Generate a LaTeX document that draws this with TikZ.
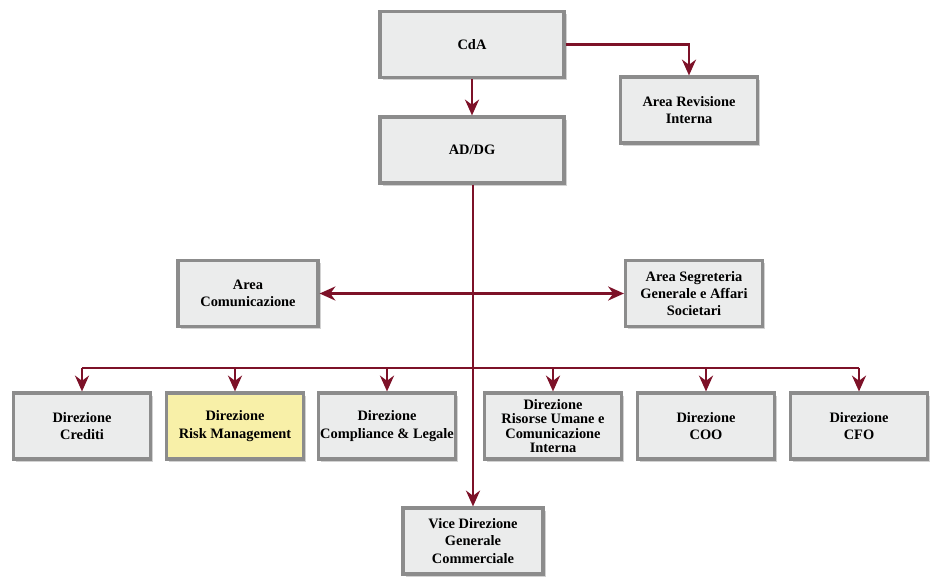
\documentclass[tikz,border=0pt]{standalone}
\usepackage{fontspec}
\setmainfont{Liberation Serif}
\usetikzlibrary{positioning,arrows.meta,shadows}
\definecolor{boxfill}{HTML}{EBECEC}
\definecolor{boxline}{HTML}{8C8C8C}
\definecolor{riskfill}{HTML}{F8F0A8}
\definecolor{arrowred}{HTML}{7D1128}
\begin{document}
\begin{tikzpicture}[x=0.2mm, y=-0.2mm,
    orgbox/.style={rectangle, draw=boxline, line width=1.8pt, fill=boxfill,
        drop shadow={shadow xshift=1.6pt, shadow yshift=-1.6pt, fill=black!35},
        minimum width=27.4mm, minimum height=13.2mm, align=center, inner sep=1pt,
        font=\bfseries\fontsize{8.2}{9.8}\selectfont},
    topbox/.style={orgbox, minimum width=36.8mm},
    link/.style={draw=arrowred, line width=1.4pt},
    arr/.style={link, -{Stealth[length=9pt,width=8pt]}}]
    \useasboundingbox (0,0) rectangle (935,579);
    % vertici
    \node[topbox] (cda) at (472,44.5) {CdA};
    \node[orgbox] (rev) at (689,110) {Area Revisione\\Interna};
    \node[topbox] (addg) at (472,150) {AD/DG};
    \node[orgbox, minimum width=28mm] (com) at (248,293.5) {Area\\Comunicazione};
    \node[orgbox] (seg) at (694,293.5) {Area Segreteria\\Generale e Affari\\Societari};
    % direzioni
    \node[orgbox] (crediti) at (82,426) {Direzione\\Crediti};
    \node[orgbox, fill=riskfill] (risk) at (235,426) {Direzione\\Risk Management};
    \node[orgbox] (compliance) at (387,426) {Direzione\\Compliance \& Legale};
    \node[orgbox, font=\bfseries\fontsize{8.2}{8.2}\selectfont] (risorse) at (553,426) {Direzione\\Risorse Umane e\\Comunicazione\\Interna};
    \node[orgbox] (coo) at (706,426) {Direzione\\COO};
    \node[orgbox] (cfo) at (859,426) {Direzione\\CFO};
    \node[orgbox, minimum width=28mm] (vice) at (473,541) {Vice Direzione\\Generale\\Commerciale};
    \coordinate (bus) at (473,368);
    % collegamenti
    \draw[arr] (cda) -- (addg);
    \draw[arr] (cda) -| (rev);
    \draw[arr] (addg.south -| vice) -- (vice);
    \draw[arr, {Stealth[length=9pt,width=8pt]}-{Stealth[length=9pt,width=8pt]}] (com) -- (seg);
    \draw[link] (crediti |- bus) -- (cfo |- bus);
    \foreach \d in {crediti,risk,compliance,risorse,coo,cfo}
        \draw[arr] (\d |- bus) -- (\d);
\end{tikzpicture}
\end{document}
